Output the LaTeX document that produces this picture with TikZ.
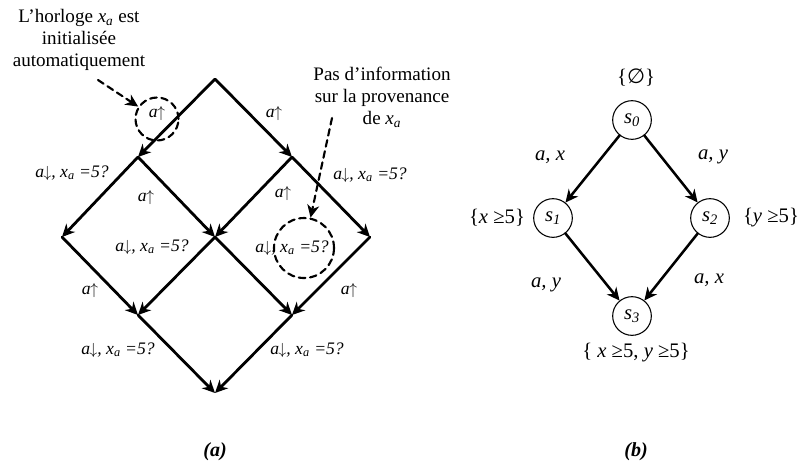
\documentclass[tikz,border=0pt]{standalone}
\usepackage{fontspec}
\setmainfont{Liberation Serif}
\newfontfamily\emptysetfont{DejaVu Sans}
\usepackage{tikz}
\usetikzlibrary{arrows.meta,positioning}
\tikzset{
  >={Stealth[length=9.5pt,width=9pt,inset=3pt]},
  every picture/.style={line cap=round, line join=round},
  note/.style={font=\fontsize{14.3}{16.5}\selectfont, align=center},
  edgelbl/.style={font=\fontsize{13.2}{15}\selectfont\itshape},
  statelbl/.style={font=\fontsize{15.5}{18}\selectfont},
  sublbl/.style={font=\fontsize{15}{18}\selectfont\bfseries\itshape},
  trans/.style={line width=2.1pt, ->},
  arc/.style={line width=1.9pt, ->},
  hint/.style={line width=1.6pt, dash pattern=on 5pt off 3.5pt, ->},
  ring/.style={circle, draw, line width=1.6pt, dash pattern=on 5pt off 3.5pt, inner sep=0pt},
  state/.style={circle, draw, line width=0.8pt, minimum size=29pt, inner sep=0pt,
    font=\fontsize{15.5}{18}\selectfont\itshape},
}
\newcommand{\xsuba}{\textit{x}\textsubscript{\textit{a}}}
\newcommand{\adown}{\textit{a}\kern-0.5pt$\downarrow$, \xsuba{} =5?}
\newcommand{\aup}{\textit{a}\kern-0.5pt$\uparrow$}

\begin{document}
\begin{tikzpicture}[x=0.75pt, y=-0.75pt]
\useasboundingbox (0,0) rectangle (803,469);
% (a) lattice of the clock
\coordinate (t) at (215,79);
\coordinate (l1) at (138,157);
\coordinate (r1) at (292,157);
\coordinate (ll) at (62,237);
\coordinate (m) at (215,237);
\coordinate (rr) at (370,237);
\coordinate (l3) at (138,315);
\coordinate (r3) at (292,315);
\coordinate (bot) at (215,393);
\draw[trans] (t) -- (l1);
\draw[trans] (t) -- (r1);
\draw[trans] (l1) -- (ll);
\draw[trans] (l1) -- (m);
\draw[trans] (r1) -- (m);
\draw[trans] (r1) -- (rr);
\draw[trans] (ll) -- (l3);
\draw[trans] (m) -- (l3);
\draw[trans] (m) -- (r3);
\draw[trans] (rr) -- (r3);
\draw[trans] (l3) -- (bot);
\draw[trans] (r3) -- (bot);
% edge labels
\node[edgelbl] (e1) at (157,113) {\aup};
\node[edgelbl] (e2) at (274,113) {\aup};
\node[edgelbl] (e3) at (72,173) {\adown};
\node[edgelbl] (e4) at (146,197) {\aup};
\node[edgelbl] (e5) at (283,193) {\aup};
\node[edgelbl] (e6) at (370,175) {\adown};
\node[edgelbl] (e7) at (152,247) {\adown};
\node[edgelbl] (e8) at (292,248) {\adown};
\node[edgelbl] (e9) at (90,290) {\aup};
\node[edgelbl] (e10) at (349,290) {\aup};
\node[edgelbl] (e11) at (118,350) {\adown};
\node[edgelbl] (e12) at (307,350) {\adown};
% remarks
\node[ring, minimum size=43pt*0.75] (c1) at (157,119) {};
\node[ring, minimum size=60pt*0.75] (c2) at (304,248) {};
\node[note] (n1) at (79,40) {L’horloge \xsuba{} est\\initialisée\\automatiquement};
\node[note] (n2) at (382,97) {Pas d’information\\sur la provenance\\de \xsuba};
\coordinate (n1tail) at (98,80);
\coordinate (n2tail) at (332,118);
\draw[hint] (n1tail) -- (c1);
\draw[hint] (n2tail) -- (c2);
\node[sublbl] (capa) at (215,452) {(a)};
% (b) automaton
\node[state] (s0) at (632,120) {s\textsubscript{0}};
\node[state] (s1) at (553,218) {s\textsubscript{1}};
\node[state] (s2) at (710,218) {s\textsubscript{2}};
\node[state] (s3) at (632,316) {s\textsubscript{3}};
\draw[arc] (s0) -- (s1);
\draw[arc] (s0) -- (s2);
\draw[arc] (s1) -- (s3);
\draw[arc] (s2) -- (s3);
\node[statelbl] (z0) at (636,78) {\{{\emptysetfont ∅}\}};
\node[statelbl] (z1) at (497,218) {\{\textit{x} ≥5\}};
\node[statelbl] (z2) at (771,218) {\{\textit{y} ≥5\}};
\node[statelbl] (z3) at (636,353) {\{ \textit{x} ≥5, \textit{y} ≥5\}};
\node[statelbl, font=\fontsize{15.5}{18}\selectfont\itshape] (g1) at (550,157) {a, x};
\node[statelbl, font=\fontsize{15.5}{18}\selectfont\itshape] (g2) at (713,157) {a, y};
\node[statelbl, font=\fontsize{15.5}{18}\selectfont\itshape] (g3) at (546,285) {a, y};
\node[statelbl, font=\fontsize{15.5}{18}\selectfont\itshape] (g4) at (709,280) {a, x};
\node[sublbl] (capb) at (636,452) {(b)};
\end{tikzpicture}
\end{document}
